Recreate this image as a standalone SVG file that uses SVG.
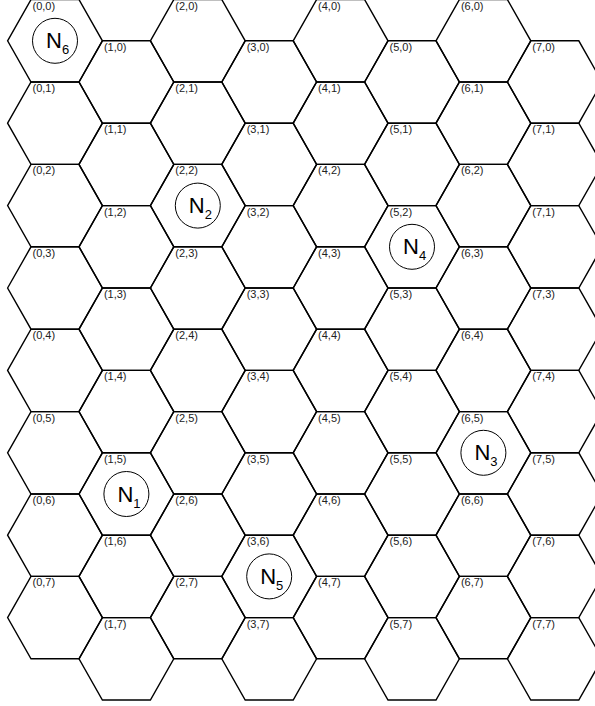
<svg xmlns="http://www.w3.org/2000/svg" xmlns:xlink="http://www.w3.org/1999/xlink" width="595" height="706" viewBox="0 0 595 706">
<defs>
<style>
.hx{fill:none;stroke:#000;stroke-width:1.4;stroke-linejoin:miter}
.lb{font-family:"Liberation Sans",Arial,sans-serif;font-size:11px;fill:#222}
.nc{fill:#fff;stroke:#000;stroke-width:1}
.nt{font-family:"Liberation Sans",Arial,sans-serif;font-size:22px;fill:#000}
.ns{font-size:13px}
</style>
<path id="hex" d="M-23.4,41.2 L0,0 L48,0 L71.4,41.2 L48,82.4 L0,82.4 Z"/>
</defs>
<rect width="595" height="706" fill="#fff"/>
<g id="grid">
<g id="h0_0"><use href="#hex" class="hx" x="31" y="-0.4"/><text class="lb" x="32.5" y="9.6">(0,0)</text></g>
<g id="h0_1"><use href="#hex" class="hx" x="31" y="82"/><text class="lb" x="32.5" y="92">(0,1)</text></g>
<g id="h0_2"><use href="#hex" class="hx" x="31" y="164.4"/><text class="lb" x="32.5" y="174.4">(0,2)</text></g>
<g id="h0_3"><use href="#hex" class="hx" x="31" y="246.8"/><text class="lb" x="32.5" y="256.8">(0,3)</text></g>
<g id="h0_4"><use href="#hex" class="hx" x="31" y="329.2"/><text class="lb" x="32.5" y="339.2">(0,4)</text></g>
<g id="h0_5"><use href="#hex" class="hx" x="31" y="411.6"/><text class="lb" x="32.5" y="421.6">(0,5)</text></g>
<g id="h0_6"><use href="#hex" class="hx" x="31" y="494"/><text class="lb" x="32.5" y="504">(0,6)</text></g>
<g id="h0_7"><use href="#hex" class="hx" x="31" y="576.4"/><text class="lb" x="32.5" y="586.4">(0,7)</text></g>

<g id="h1_0"><use href="#hex" class="hx" x="102.4" y="40.8"/><text class="lb" x="103.9" y="50.8">(1,0)</text></g>
<g id="h1_1"><use href="#hex" class="hx" x="102.4" y="123.2"/><text class="lb" x="103.9" y="133.2">(1,1)</text></g>
<g id="h1_2"><use href="#hex" class="hx" x="102.4" y="205.6"/><text class="lb" x="103.9" y="215.6">(1,2)</text></g>
<g id="h1_3"><use href="#hex" class="hx" x="102.4" y="288"/><text class="lb" x="103.9" y="298">(1,3)</text></g>
<g id="h1_4"><use href="#hex" class="hx" x="102.4" y="370.4"/><text class="lb" x="103.9" y="380.4">(1,4)</text></g>
<g id="h1_5"><use href="#hex" class="hx" x="102.4" y="452.8"/><text class="lb" x="103.9" y="462.8">(1,5)</text></g>
<g id="h1_6"><use href="#hex" class="hx" x="102.4" y="535.2"/><text class="lb" x="103.9" y="545.2">(1,6)</text></g>
<g id="h1_7"><use href="#hex" class="hx" x="102.4" y="617.6"/><text class="lb" x="103.9" y="627.6">(1,7)</text></g>

<g id="h2_0"><use href="#hex" class="hx" x="173.8" y="-0.4"/><text class="lb" x="175.3" y="9.6">(2,0)</text></g>
<g id="h2_1"><use href="#hex" class="hx" x="173.8" y="82"/><text class="lb" x="175.3" y="92">(2,1)</text></g>
<g id="h2_2"><use href="#hex" class="hx" x="173.8" y="164.4"/><text class="lb" x="175.3" y="174.4">(2,2)</text></g>
<g id="h2_3"><use href="#hex" class="hx" x="173.8" y="246.8"/><text class="lb" x="175.3" y="256.8">(2,3)</text></g>
<g id="h2_4"><use href="#hex" class="hx" x="173.8" y="329.2"/><text class="lb" x="175.3" y="339.2">(2,4)</text></g>
<g id="h2_5"><use href="#hex" class="hx" x="173.8" y="411.6"/><text class="lb" x="175.3" y="421.6">(2,5)</text></g>
<g id="h2_6"><use href="#hex" class="hx" x="173.8" y="494"/><text class="lb" x="175.3" y="504">(2,6)</text></g>
<g id="h2_7"><use href="#hex" class="hx" x="173.8" y="576.4"/><text class="lb" x="175.3" y="586.4">(2,7)</text></g>

<g id="h3_0"><use href="#hex" class="hx" x="245.2" y="40.8"/><text class="lb" x="246.7" y="50.8">(3,0)</text></g>
<g id="h3_1"><use href="#hex" class="hx" x="245.2" y="123.2"/><text class="lb" x="246.7" y="133.2">(3,1)</text></g>
<g id="h3_2"><use href="#hex" class="hx" x="245.2" y="205.6"/><text class="lb" x="246.7" y="215.6">(3,2)</text></g>
<g id="h3_3"><use href="#hex" class="hx" x="245.2" y="288"/><text class="lb" x="246.7" y="298">(3,3)</text></g>
<g id="h3_4"><use href="#hex" class="hx" x="245.2" y="370.4"/><text class="lb" x="246.7" y="380.4">(3,4)</text></g>
<g id="h3_5"><use href="#hex" class="hx" x="245.2" y="452.8"/><text class="lb" x="246.7" y="462.8">(3,5)</text></g>
<g id="h3_6"><use href="#hex" class="hx" x="245.2" y="535.2"/><text class="lb" x="246.7" y="545.2">(3,6)</text></g>
<g id="h3_7"><use href="#hex" class="hx" x="245.2" y="617.6"/><text class="lb" x="246.7" y="627.6">(3,7)</text></g>

<g id="h4_0"><use href="#hex" class="hx" x="316.6" y="-0.4"/><text class="lb" x="318.1" y="9.6">(4,0)</text></g>
<g id="h4_1"><use href="#hex" class="hx" x="316.6" y="82"/><text class="lb" x="318.1" y="92">(4,1)</text></g>
<g id="h4_2"><use href="#hex" class="hx" x="316.6" y="164.4"/><text class="lb" x="318.1" y="174.4">(4,2)</text></g>
<g id="h4_3"><use href="#hex" class="hx" x="316.6" y="246.8"/><text class="lb" x="318.1" y="256.8">(4,3)</text></g>
<g id="h4_4"><use href="#hex" class="hx" x="316.6" y="329.2"/><text class="lb" x="318.1" y="339.2">(4,4)</text></g>
<g id="h4_5"><use href="#hex" class="hx" x="316.6" y="411.6"/><text class="lb" x="318.1" y="421.6">(4,5)</text></g>
<g id="h4_6"><use href="#hex" class="hx" x="316.6" y="494"/><text class="lb" x="318.1" y="504">(4,6)</text></g>
<g id="h4_7"><use href="#hex" class="hx" x="316.6" y="576.4"/><text class="lb" x="318.1" y="586.4">(4,7)</text></g>

<g id="h5_0"><use href="#hex" class="hx" x="388" y="40.8"/><text class="lb" x="389.5" y="50.8">(5,0)</text></g>
<g id="h5_1"><use href="#hex" class="hx" x="388" y="123.2"/><text class="lb" x="389.5" y="133.2">(5,1)</text></g>
<g id="h5_2"><use href="#hex" class="hx" x="388" y="205.6"/><text class="lb" x="389.5" y="215.6">(5,2)</text></g>
<g id="h5_3"><use href="#hex" class="hx" x="388" y="288"/><text class="lb" x="389.5" y="298">(5,3)</text></g>
<g id="h5_4"><use href="#hex" class="hx" x="388" y="370.4"/><text class="lb" x="389.5" y="380.4">(5,4)</text></g>
<g id="h5_5"><use href="#hex" class="hx" x="388" y="452.8"/><text class="lb" x="389.5" y="462.8">(5,5)</text></g>
<g id="h5_6"><use href="#hex" class="hx" x="388" y="535.2"/><text class="lb" x="389.5" y="545.2">(5,6)</text></g>
<g id="h5_7"><use href="#hex" class="hx" x="388" y="617.6"/><text class="lb" x="389.5" y="627.6">(5,7)</text></g>

<g id="h6_0"><use href="#hex" class="hx" x="459.4" y="-0.4"/><text class="lb" x="460.9" y="9.6">(6,0)</text></g>
<g id="h6_1"><use href="#hex" class="hx" x="459.4" y="82"/><text class="lb" x="460.9" y="92">(6,1)</text></g>
<g id="h6_2"><use href="#hex" class="hx" x="459.4" y="164.4"/><text class="lb" x="460.9" y="174.4">(6,2)</text></g>
<g id="h6_3"><use href="#hex" class="hx" x="459.4" y="246.8"/><text class="lb" x="460.9" y="256.8">(6,3)</text></g>
<g id="h6_4"><use href="#hex" class="hx" x="459.4" y="329.2"/><text class="lb" x="460.9" y="339.2">(6,4)</text></g>
<g id="h6_5"><use href="#hex" class="hx" x="459.4" y="411.6"/><text class="lb" x="460.9" y="421.6">(6,5)</text></g>
<g id="h6_6"><use href="#hex" class="hx" x="459.4" y="494"/><text class="lb" x="460.9" y="504">(6,6)</text></g>
<g id="h6_7"><use href="#hex" class="hx" x="459.4" y="576.4"/><text class="lb" x="460.9" y="586.4">(6,7)</text></g>

<g id="h7_0"><use href="#hex" class="hx" x="530.8" y="40.8"/><text class="lb" x="532.3" y="50.8">(7,0)</text></g>
<g id="h7_1"><use href="#hex" class="hx" x="530.8" y="123.2"/><text class="lb" x="532.3" y="133.2">(7,1)</text></g>
<g id="h7_2"><use href="#hex" class="hx" x="530.8" y="205.6"/><text class="lb" x="532.3" y="215.6">(7,1)</text></g>
<g id="h7_3"><use href="#hex" class="hx" x="530.8" y="288"/><text class="lb" x="532.3" y="298">(7,3)</text></g>
<g id="h7_4"><use href="#hex" class="hx" x="530.8" y="370.4"/><text class="lb" x="532.3" y="380.4">(7,4)</text></g>
<g id="h7_5"><use href="#hex" class="hx" x="530.8" y="452.8"/><text class="lb" x="532.3" y="462.8">(7,5)</text></g>
<g id="h7_6"><use href="#hex" class="hx" x="530.8" y="535.2"/><text class="lb" x="532.3" y="545.2">(7,6)</text></g>
<g id="h7_7"><use href="#hex" class="hx" x="530.8" y="617.6"/><text class="lb" x="532.3" y="627.6">(7,7)</text></g>
</g>
<g id="nodes">
<g id="N6"><circle class="nc" cx="55" cy="40.8" r="22.5"/><text class="nt" x="46" y="48.3">N<tspan class="ns" dy="6">6</tspan></text></g>
<g id="N2"><circle class="nc" cx="197.8" cy="205.6" r="22.5"/><text class="nt" x="188.8" y="213.1">N<tspan class="ns" dy="6">2</tspan></text></g>
<g id="N4"><circle class="nc" cx="412" cy="246.8" r="22.5"/><text class="nt" x="403" y="254.3">N<tspan class="ns" dy="6">4</tspan></text></g>
<g id="N3"><circle class="nc" cx="483.4" cy="452.8" r="22.5"/><text class="nt" x="474.4" y="460.3">N<tspan class="ns" dy="6">3</tspan></text></g>
<g id="N1"><circle class="nc" cx="126.4" cy="494" r="22.5"/><text class="nt" x="117.4" y="501.5">N<tspan class="ns" dy="6">1</tspan></text></g>
<g id="N5"><circle class="nc" cx="269.2" cy="576.4" r="22.5"/><text class="nt" x="260.2" y="583.9">N<tspan class="ns" dy="6">5</tspan></text></g>
</g>
</svg>
